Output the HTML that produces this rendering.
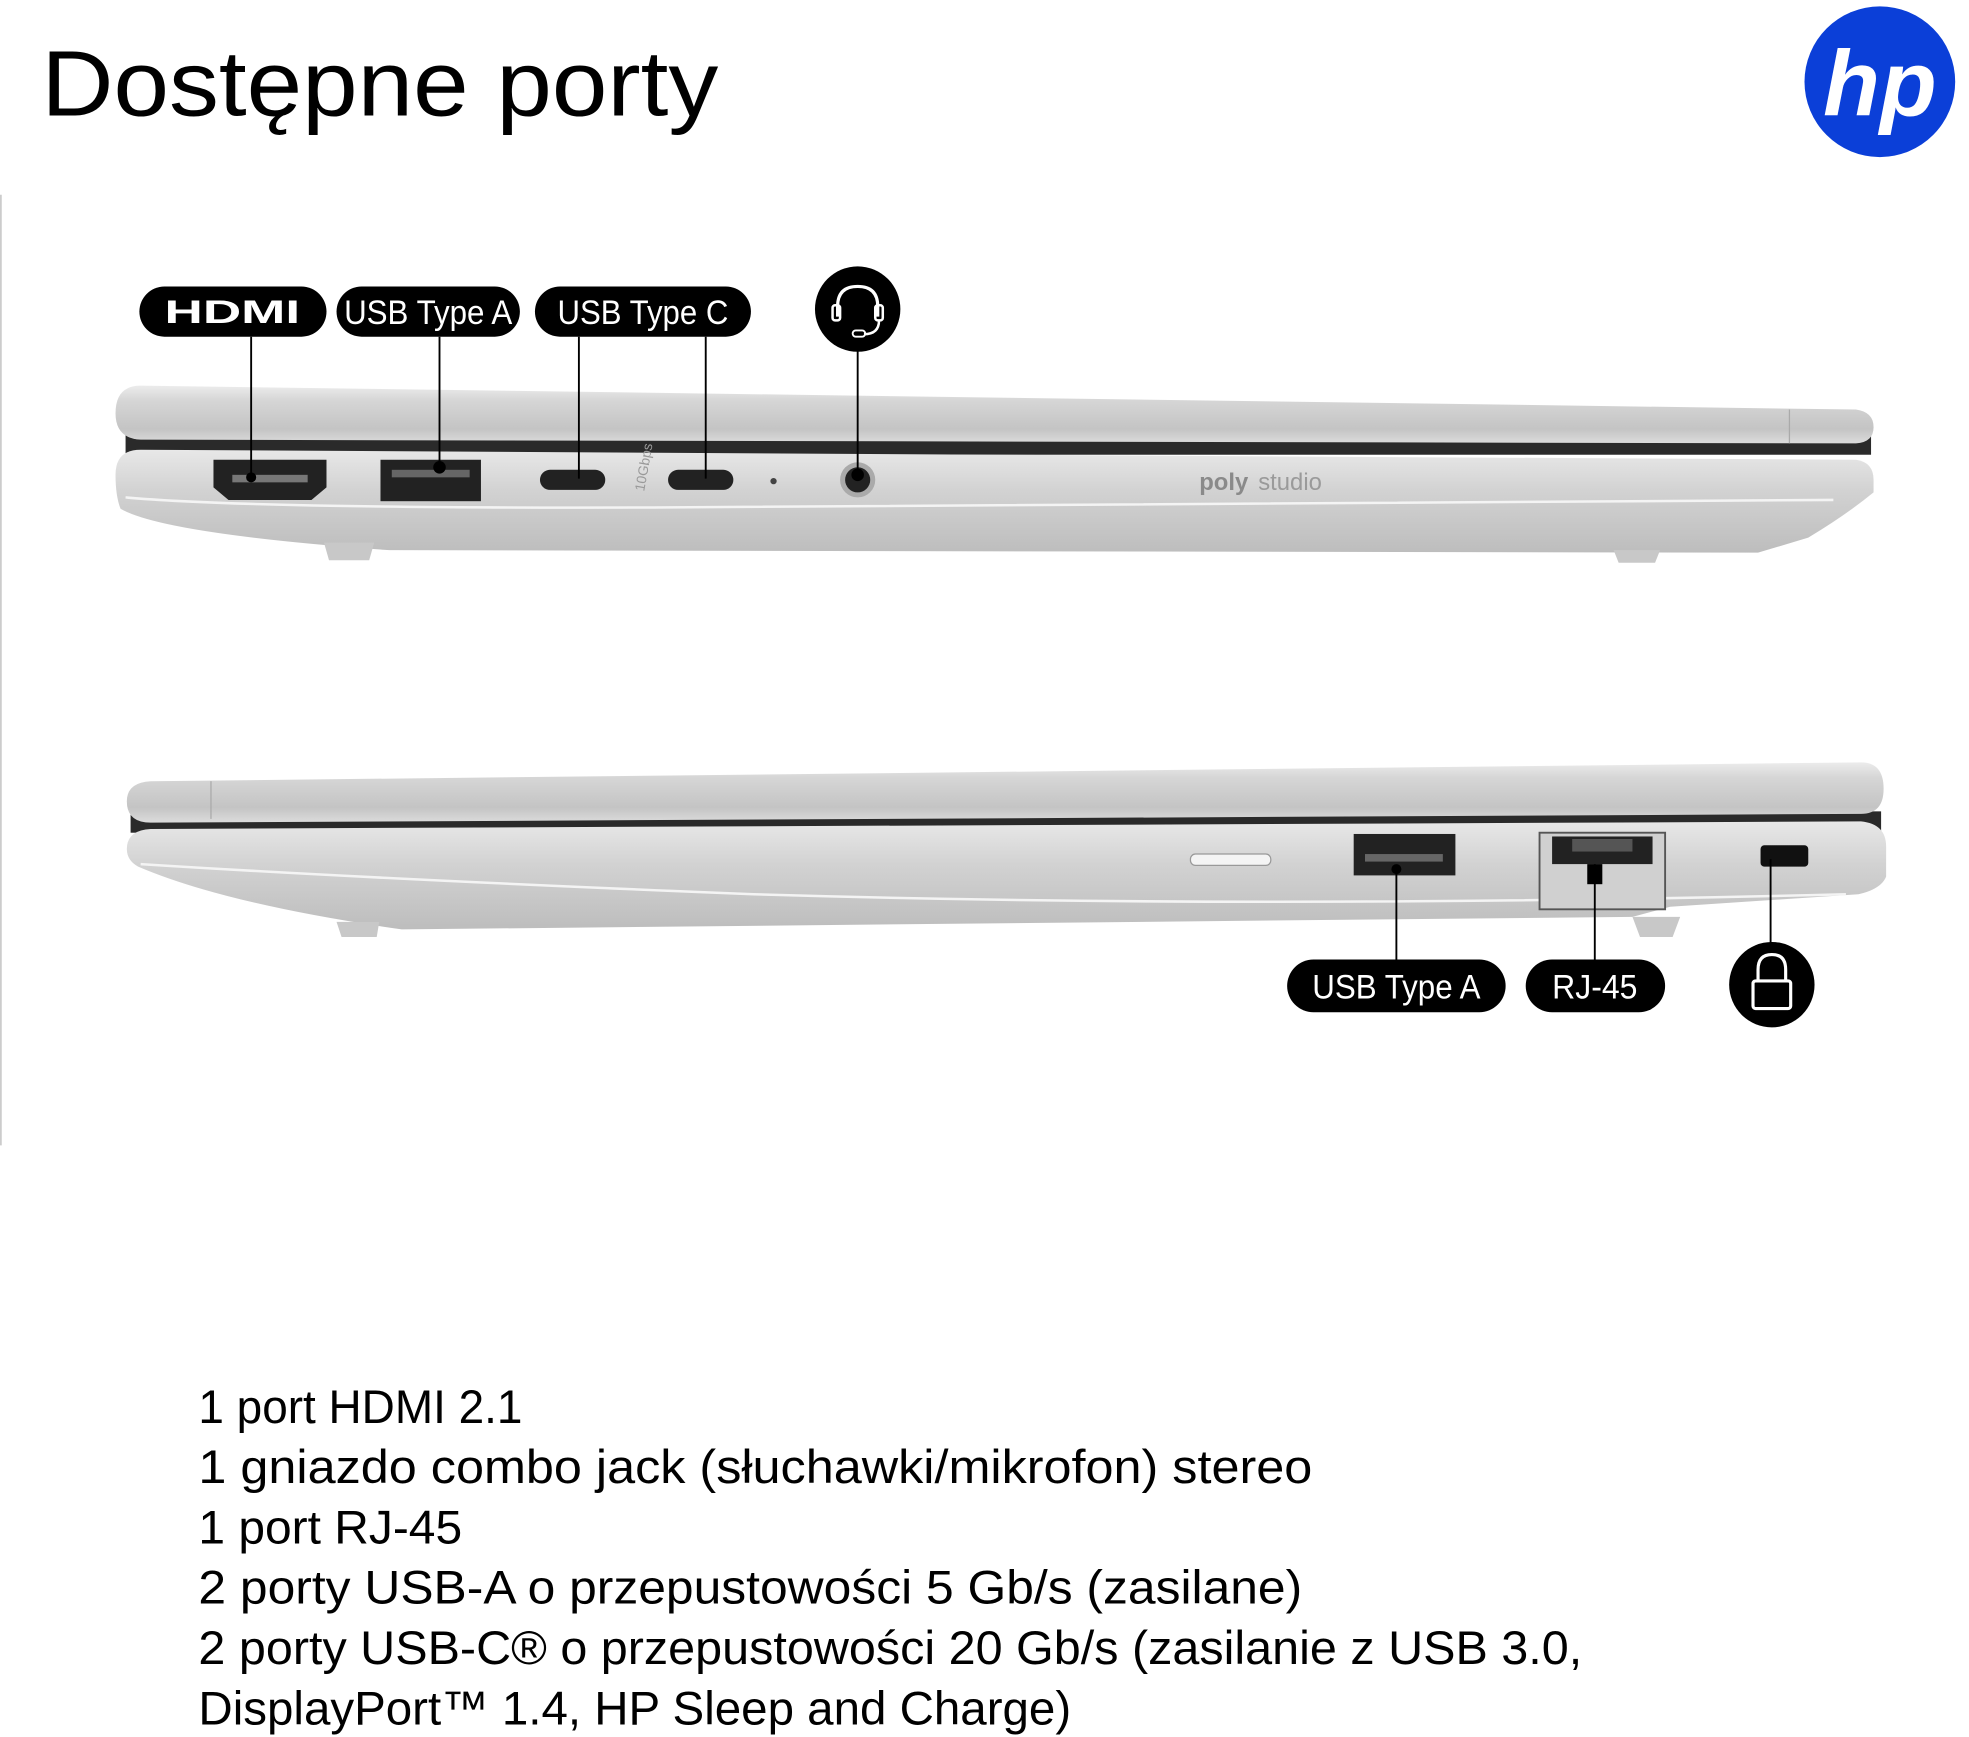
<!DOCTYPE html>
<html><head><meta charset="utf-8"><style>
html,body{margin:0;padding:0;background:#fff;}
svg{display:block;}
text{font-family:"Liberation Sans",sans-serif;}
</style></head><body>
<svg width="1969" height="1737" viewBox="0 0 1568 1383" xmlns="http://www.w3.org/2000/svg">
<defs>
<linearGradient id="lid" x1="0" y1="0" x2="0" y2="1">
<stop offset="0" stop-color="#ececec"/><stop offset="0.25" stop-color="#d6d6d6"/><stop offset="0.75" stop-color="#c4c4c4"/><stop offset="1" stop-color="#dcdcdc"/></linearGradient>
<linearGradient id="base" x1="0" y1="0" x2="0" y2="1">
<stop offset="0" stop-color="#e8e8e8"/><stop offset="0.4" stop-color="#d2d2d2"/><stop offset="1" stop-color="#bdbdbd"/></linearGradient>
</defs>
<rect width="1568" height="1383" fill="#fff"/>
<line x1="0.7" y1="155" x2="0.7" y2="912" stroke="#ccc" stroke-width="1.4"/>
<text x="33" y="92" font-size="74" textLength="539" lengthAdjust="spacingAndGlyphs" fill="#000">Dostępne porty</text>
<circle cx="1497" cy="65" r="60" fill="#0b3fd8"/>
<text x="1497" y="92" font-size="74" font-style="italic" font-weight="bold" fill="#fff" text-anchor="middle">hp</text>

<!-- Laptop 1 -->
<rect x="100" y="345" width="1390" height="17" fill="#2a2a2a"/>
<path d="M112 307 L1478 326 Q1492 328 1492 340 Q1492 352 1478 353 L112 350 Q92 349 92 329 Q92 307 112 307Z" fill="url(#lid)"/>
<line x1="1425" y1="326" x2="1425" y2="353" stroke="#aaa" stroke-width="1"/>
<path d="M112 358 L1478 366 Q1492 368 1492 382 L1492 392 Q1470 410 1440 428 L1400 440 L310 438 Q130 425 96 405 Q92 395 92 378 Q92 358 112 358Z" fill="url(#base)"/>
<path d="M100 396 Q200 405 520 404 L1460 398" stroke="#f4f4f4" stroke-width="2" fill="none"/>
<path d="M258 432 L298 432 L294 446 L262 446Z" fill="#c8c8c8"/>
<path d="M1285 438 L1322 438 L1318 448 L1289 448Z" fill="#c8c8c8"/>
<path d="M170 366 L260 366 L260 388 L248 398 L182 398 L170 388Z" fill="#222"/>
<rect x="185" y="378" width="60" height="6" fill="#777"/>
<rect x="303" y="366" width="80" height="33" fill="#222"/>
<rect x="312" y="374" width="62" height="6" fill="#666"/>
<rect x="430" y="374" width="52" height="16" rx="8" fill="#222"/>
<rect x="532" y="374" width="52" height="16" rx="8" fill="#222"/>
<text x="500" y="394" font-size="11" fill="#999" transform="rotate(-80 505 385)">10Gbps</text>
<circle cx="616" cy="383" r="2.5" fill="#444"/>
<circle cx="683" cy="382" r="14" fill="#aaa"/><circle cx="683" cy="382" r="10" fill="#222"/>
<text x="955" y="390" font-size="19" fill="#8a8a8a" font-weight="bold">poly</text>
<text x="1002" y="390" font-size="19" fill="#9a9a9a">studio</text>

<g stroke="#000" stroke-width="1.5">
<line x1="200" y1="268" x2="200" y2="380"/><line x1="350" y1="268" x2="350" y2="372"/>
<line x1="461" y1="268" x2="461" y2="381"/><line x1="562" y1="268" x2="562" y2="381"/>
<line x1="683" y1="270" x2="683" y2="380"/></g>
<circle cx="200" cy="380" r="4" fill="#000"/><circle cx="350" cy="372" r="5" fill="#000"/>
<circle cx="683" cy="378" r="5" fill="#000"/>
<rect x="111" y="228" width="149" height="40" rx="20" fill="#000"/>
<text x="185" y="257" font-size="26" font-weight="bold" fill="#fff" text-anchor="middle" textLength="108" lengthAdjust="spacingAndGlyphs">HDMI</text>
<rect x="268" y="228" width="146" height="40" rx="20" fill="#000"/>
<text x="341" y="258" font-size="27" fill="#fff" text-anchor="middle" textLength="134" lengthAdjust="spacingAndGlyphs">USB Type A</text>
<rect x="426" y="228" width="172" height="40" rx="20" fill="#000"/>
<text x="512" y="258" font-size="27" fill="#fff" text-anchor="middle" textLength="136" lengthAdjust="spacingAndGlyphs">USB Type C</text>
<circle cx="683" cy="246" r="34" fill="#000"/>
<path d="M667 252 L667 244 Q667 228 683 228 Q699 228 699 244 L699 252" stroke="#fff" stroke-width="2.5" fill="none"/>
<rect x="663" y="243" width="6" height="12" rx="2" fill="none" stroke="#fff" stroke-width="2"/>
<rect x="697" y="243" width="6" height="12" rx="2" fill="none" stroke="#fff" stroke-width="2"/>
<path d="M700 255 Q700 266 688 266" stroke="#fff" stroke-width="2" fill="none"/>
<rect x="679" y="263" width="10" height="5" rx="2.5" fill="none" stroke="#fff" stroke-width="1.5"/>

<!-- Laptop 2 -->
<rect x="104" y="646" width="1394" height="17" fill="#2a2a2a"/>
<path d="M120 622 L1482 607 Q1500 607 1500 628 Q1500 648 1482 648 L120 655 Q101 655 101 638 Q101 623 120 622Z" fill="url(#lid)"/>
<line x1="168" y1="622" x2="168" y2="652" stroke="#aaa" stroke-width="1"/>
<path d="M120 660 L1482 654 Q1502 656 1502 674 L1502 698 Q1498 708 1480 712 L1330 722 L1300 730 L320 740 Q180 720 110 690 Q101 685 101 676 Q101 661 120 660Z" fill="url(#base)"/>
<path d="M112 688 Q300 700 600 712 Q1000 724 1470 712" stroke="#f4f4f4" stroke-width="2" fill="none"/>
<path d="M268 734 L302 734 L300 746 L272 746Z" fill="#c8c8c8"/>
<path d="M1300 730 L1338 730 L1332 746 L1306 746Z" fill="#c8c8c8"/>
<rect x="948" y="680" width="64" height="9" rx="4" fill="#f4f4f4" stroke="#999"/>
<rect x="1078" y="664" width="81" height="33" fill="#222"/>
<rect x="1087" y="680" width="62" height="6" fill="#666"/>
<rect x="1226" y="663" width="100" height="61" fill="#d0d0d0" stroke="#555" stroke-width="1.5"/>
<rect x="1236" y="666" width="80" height="22" fill="#222"/>
<rect x="1252" y="668" width="48" height="10" fill="#555"/>
<rect x="1402" y="673" width="38" height="17" rx="3" fill="#111"/>
<g stroke="#000" stroke-width="1.5">
<line x1="1112" y1="690" x2="1112" y2="765"/><line x1="1270" y1="688" x2="1270" y2="765"/>
<line x1="1410" y1="684" x2="1410" y2="752"/></g>
<circle cx="1112" cy="692" r="4" fill="#000"/><rect x="1264" y="688" width="12" height="16" fill="#000"/>
<rect x="1025" y="764" width="174" height="42" rx="21" fill="#000"/>
<text x="1112" y="795" font-size="27" fill="#fff" text-anchor="middle" textLength="134" lengthAdjust="spacingAndGlyphs">USB Type A</text>
<rect x="1215" y="764" width="111" height="42" rx="21" fill="#000"/>
<text x="1270" y="795" font-size="27" fill="#fff" text-anchor="middle" textLength="68" lengthAdjust="spacingAndGlyphs">RJ-45</text>
<circle cx="1411" cy="784" r="34" fill="#000"/>
<path d="M1400 781 L1400 772 Q1400 760 1411 760 Q1422 760 1422 772 L1422 781" stroke="#fff" stroke-width="2.5" fill="none"/>
<rect x="1396" y="781" width="30" height="22" rx="2" fill="none" stroke="#fff" stroke-width="2.5"/>

<g font-size="38" fill="#000">
<text x="158" y="1133" textLength="258" lengthAdjust="spacingAndGlyphs">1 port HDMI 2.1</text>
<text x="158" y="1181" textLength="887" lengthAdjust="spacingAndGlyphs">1 gniazdo combo jack (słuchawki/mikrofon) stereo</text>
<text x="158" y="1229" textLength="210" lengthAdjust="spacingAndGlyphs">1 port RJ-45</text>
<text x="158" y="1277" textLength="879" lengthAdjust="spacingAndGlyphs">2 porty USB-A o przepustowości 5 Gb/s (zasilane)</text>
<text x="158" y="1325" textLength="1102" lengthAdjust="spacingAndGlyphs">2 porty USB-C® o przepustowości 20 Gb/s (zasilanie z USB 3.0,</text>
<text x="158" y="1373" textLength="695" lengthAdjust="spacingAndGlyphs">DisplayPort™ 1.4, HP Sleep and Charge)</text>
</g>
</svg>
</body></html>
